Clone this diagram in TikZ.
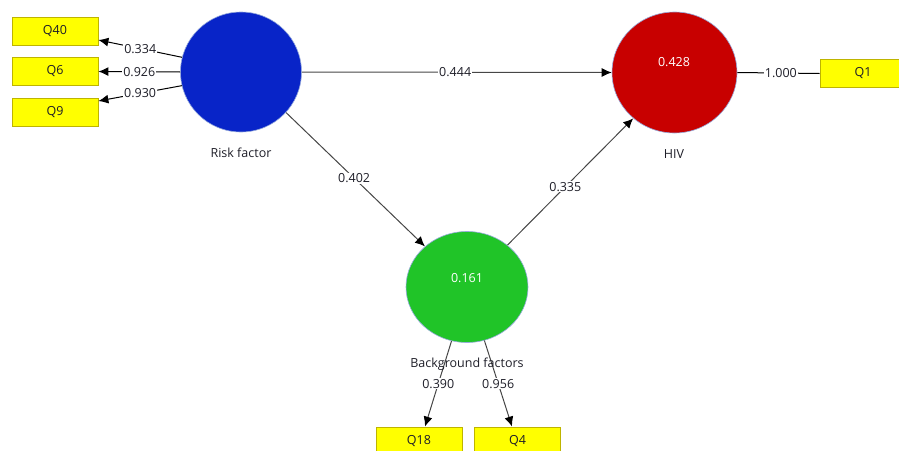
\documentclass[tikz,border=0pt]{standalone}
\usepackage{fontspec}
\setmainfont{Open Sans}
\usetikzlibrary{arrows.meta,shapes.geometric}
\definecolor{boxyellow}{RGB}{255,255,0}
\definecolor{boxedge}{RGB}{190,180,0}
\definecolor{riskblue}{RGB}{8,36,200}
\definecolor{hivred}{RGB}{200,0,0}
\definecolor{bggreen}{RGB}{32,196,40}
\definecolor{ringedge}{RGB}{150,170,220}
\definecolor{linegray}{RGB}{70,70,70}
\definecolor{textdark}{RGB}{30,30,40}
\tikzset{
  x=1pt, y=-1pt,
  every node/.style={font=\fontsize{12.5}{14}\selectfont, text=textdark},
  indicator/.style={draw=boxedge, line width=0.8pt, fill=boxyellow, minimum width=86pt, minimum height=28pt, inner sep=0pt},
  latent/.style={ellipse, draw=ringedge, line width=0.6pt, inner sep=0pt},
  conn/.style={draw=linegray, line width=1pt},
  arr/.style={conn, -{Latex[length=10pt,width=9pt,color=black]}},
  coef/.style={fill=white, inner sep=1pt},
  inval/.style={text=white}
}
\begin{document}
\begin{tikzpicture}
\useasboundingbox (0,0) rectangle (899,450);
\begin{scope}
\clip (0,0) rectangle (899,450);
% indicators
\node[indicator] (q40) at (55,31) {Q40};
\node[indicator] (q6) at (55,71.5) {Q6};
\node[indicator] (q9) at (55,112) {Q9};
\node[indicator] (q1) at (863,73.5) {Q1};
\node[indicator] (q18) at (419,441) {Q18};
\node[indicator] (q4) at (517.5,441) {Q4};
% latent variables
\node[latent, fill=riskblue, minimum width=121pt, minimum height=120pt] (risk) at (241,72) {};
\node[latent, fill=hivred, minimum width=125pt, minimum height=121pt] (hiv) at (674.5,72.5) {};
\node[latent, fill=bggreen, minimum width=122pt, minimum height=111pt] (bg) at (467,287) {};
\node[inval] (hivval) at (674,62) {0.428};
\node[inval] (bgval) at (467,278) {0.161};
\node (risklbl) at (241,153) {Risk factor};
\node (hivlbl) at (674,154) {HIV};
% outer loadings
\draw[arr, draw=black] (risk.166) -- ([yshift=-9pt]q40.east) node[coef, pos=0.5] {0.334};
\draw[arr, draw=black] (risk.west) -- (q6.east) node[coef, pos=0.5] {0.926};
\draw[arr, draw=black] (risk.193) -- ([yshift=11pt]q9.east) node[coef, pos=0.5] {0.930};
\draw[conn, draw=black] (hiv.east) -- (q1.west) node[coef, pos=0.53] {1.000};
\draw[arr] (bg.254) -- ([xshift=6pt]q18.north) node[coef, pos=0.5] {0.390};
\draw[arr] (bg.288) -- ([xshift=-5.5pt]q4.north) node[coef, pos=0.5] {0.956};
% inner paths
\draw[arr] (risk.east) -- (hiv.west) node[coef, pos=0.495] {0.444};
\draw[arr] (risk.318) -- (bg.136) node[coef, pos=0.49] {0.402};
\draw[arr] (bg.46) -- (hiv.228) node[coef, pos=0.46] {0.335};
\node (bglbl) at (467,364) {Background factors};
\end{scope}
\end{tikzpicture}
\end{document}
